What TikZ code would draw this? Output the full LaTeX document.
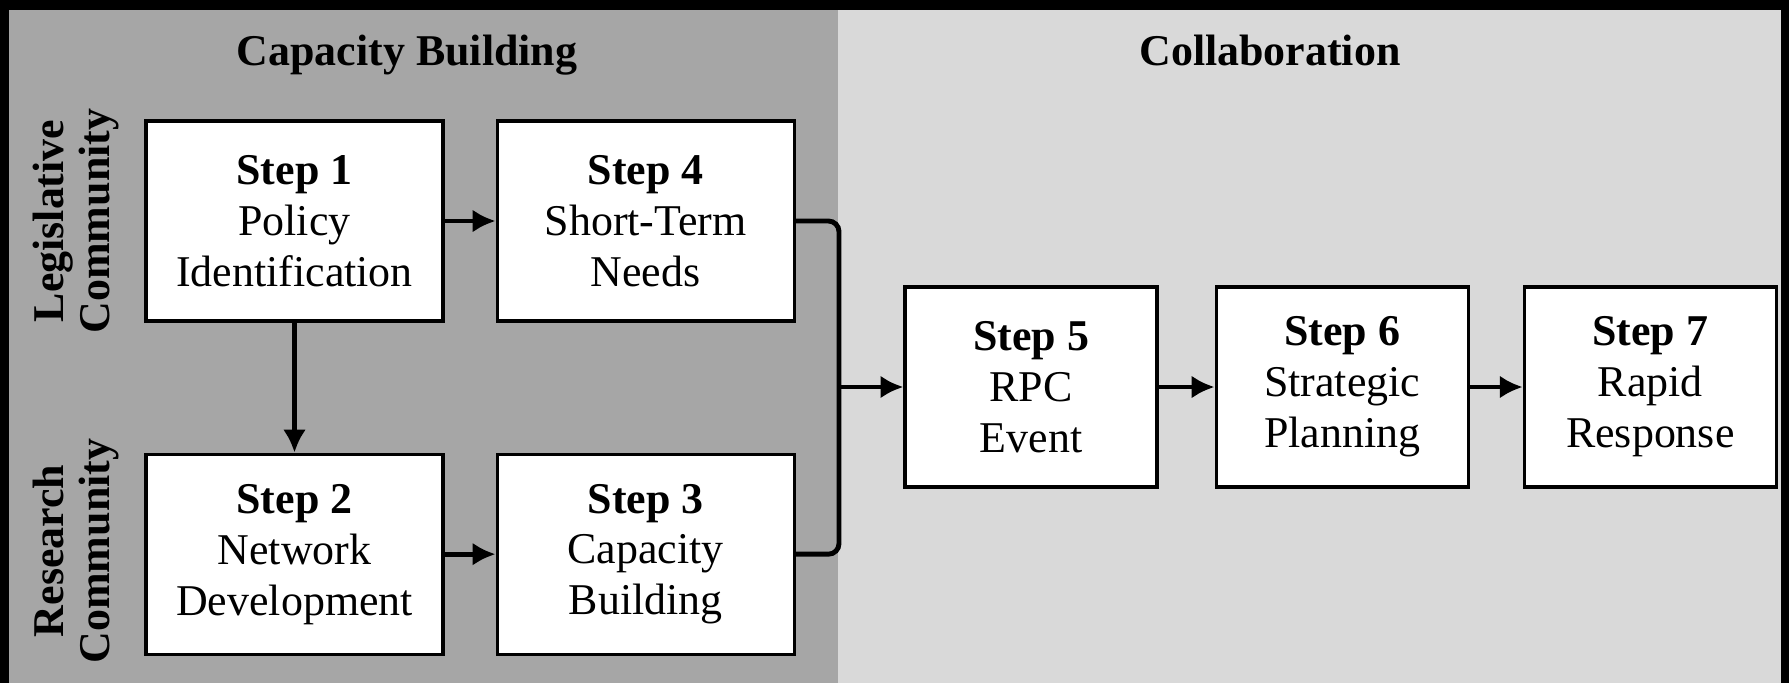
\documentclass[tikz,border=0pt]{standalone}
\usepackage{fontspec}
\setmainfont{Liberation Serif}
\usepackage{xcolor}
\usepackage{tikz}
\usetikzlibrary{shapes.geometric, arrows, arrows.meta, positioning}
\definecolor{panelDark}{RGB}{166,166,166}
\definecolor{panelLight}{RGB}{217,217,217}

\begin{document}
\begin{tikzpicture}[
    node distance=1.30cm and 0.51cm,
    box/.style={draw, line width=0.9pt, rectangle, minimum width=2.97cm, minimum height=2.0cm, align=center, fill=white, inner sep=0pt, font=\fontsize{12.5}{14.5}\selectfont},
    wbox/.style={box, minimum width=2.52cm},
    lane/.style={rotate=90, align=center, font=\fontsize{12.5}{13.2}\selectfont\bfseries},
    head/.style={anchor=base, font=\fontsize{12.5}{14.2}\selectfont\bfseries},
    arrow/.style={-{Latex[length=6.5pt,width=6.5pt]}, line width=1.4pt},
    link/.style={line width=1.4pt, rounded corners=3pt}
]
% panels
\fill[black] (0,0) rectangle (17.89,6.83);
\fill[panelDark] (0.09,0) rectangle (8.38,6.73);
\fill[panelLight] (8.38,0) rectangle (17.81,6.73);

\node[head] (capTitle) at (4.07,6.18) {Capacity Building};
\node[head] (colTitle) at (12.70,6.18) {Collaboration};
\node[lane] (legLane) at (0.76,4.62) {Legislative\\Community};
\node[lane] (resLane) at (0.76,1.32) {Research\\Community};

\node[box] (policy) at (2.945,4.62) {\textbf{Step 1}\\Policy\\Identification};
\node[box, right=of policy] (needs) {\textbf{Step 4}\\Short-Term\\Needs};
\node[box, below=of policy] (network) {\textbf{Step 2}\\Network\\Development};
\node[box, right=of network] (capacity) {\textbf{Step 3}\\Capacity\\Building};
\node[wbox] (rpc) at (10.31,2.96) {\textbf{Step 5}\\RPC\\Event};
\node[wbox, right=0.56cm of rpc] (planning) {\textbf{Step 6}\\Strategic\\Planning};
\node[wbox, right=0.53cm of planning] (response) {\textbf{Step 7}\\Rapid\\Response};
\coordinate (join) at (8.39,2.96);

\draw[arrow] (policy) -- (needs);
\draw[arrow] (policy) -- (network);
\draw[arrow] (network) -- (capacity);
\draw[link] (needs.east) -| (join) |- (capacity.east);
\draw[arrow] (join) -- (rpc);
\draw[arrow] (rpc) -- (planning);
\draw[arrow] (planning) -- (response);
\end{tikzpicture}
\end{document}
